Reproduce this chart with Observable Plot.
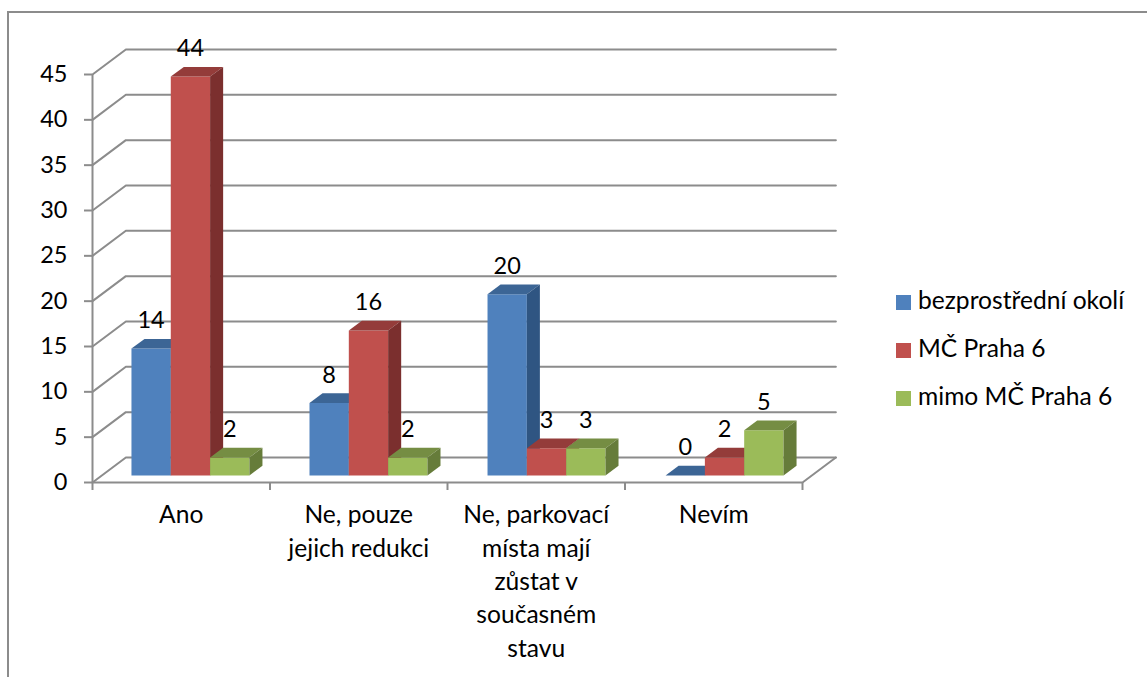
<!DOCTYPE html>
<html><head><meta charset="utf-8">
<script src="https://cdn.jsdelivr.net/npm/d3@7"></script>
<script src="https://cdn.jsdelivr.net/npm/@observablehq/plot@0.6"></script>
<style>
html,body{margin:0;padding:0;background:#fff;overflow:hidden}
#wrap{position:relative;width:1147px;height:677px;font-family:Lato,sans-serif;color:#000}
#frame{position:absolute;left:7px;top:11px;right:-4px;bottom:-4px;border:2px solid #8c8c8c;box-sizing:border-box}
#chart{position:absolute;left:0;top:0}
#legend div{position:absolute;left:896px;height:16px;line-height:16px;font-size:24.6px;white-space:nowrap}
#legend i{display:inline-block;width:15px;height:15px;margin-right:7px;vertical-align:-1px}
</style></head><body>
<div id="wrap"><div id="frame"></div><div id="chart"></div><div id="legend"></div></div>
<script>
const categories = ["Ano", "Ne, pouze\njejich redukci", "Ne, parkovací\nmísta mají\nzůstat v\nsoučasném\nstavu", "Nevím"];
const seriesNames = ["bezprostřední okolí", "MČ Praha 6", "mimo MČ Praha 6"];
const okoli = [14, 8, 20, 0];
const praha6 = [44, 16, 3, 2];
const mimo = [2, 2, 3, 5];
const yTicks = [0, 5, 10, 15, 20, 25, 30, 35, 40, 45];
const frontColors = ["#4f81bd", "#c0504d", "#9bbb59"];
const topColors = ["#3c6595", "#943c3a", "#758d43"];
const sideColors = ["#2f5582", "#7b2f2e", "#667c3a"];

const values = [okoli, praha6, mimo];
// projection offsets of the 3D box, in data units
const wallDx = 0.188, wallDy = 2.76;
const barDx = 0.0735, barDy = 1.07;
const baseDy = 0.77;
const groupStart = 0.2195, barW = 0.2215;
const fontPx = 23.5, categoryFontPx = 24.6;

const grid = yTicks.flatMap(v => [
  {id: v, x: 0, y: v},
  {id: v, x: wallDx, y: v + wallDy},
  {id: v, x: categories.length + wallDx, y: v + wallDy}
]);
const floorEdge = [
  {x: 0, y: 0}, {x: categories.length, y: 0}, {x: categories.length + wallDx, y: wallDy}
];
const faces = [], labels = [];
categories.forEach((c, i) => {
  values.forEach((arr, s) => {
    const v = arr[i];
    const x0 = i + groupStart + s * barW + (i * 0.003), x1 = x0 + barW;
    const y0 = baseDy, y1 = baseDy + v;
    const id = i + "-" + s;
    const poly = (k, color, pts) => pts.forEach(p => faces.push({id: id + k, color, x: p[0], y: p[1]}));
    poly("f", frontColors[s], [[x0, y0], [x1, y0], [x1, y1], [x0, y1]]);
    poly("t", topColors[s], [[x0, y1], [x1, y1], [x1 + barDx, y1 + barDy], [x0 + barDx, y1 + barDy]]);
    poly("s", sideColors[s], [[x1, y0], [x1 + barDx, y0 + barDy], [x1 + barDx, y1 + barDy], [x1, y1]]);
    labels.push({x: (x0 + x1) / 2, y: y1, v});
  });
});

const plot = Plot.plot({
  width: 1147, height: 677,
  marginLeft: 92, marginRight: 345, marginTop: 74, marginBottom: 195,
  style: {fontFamily: "Lato, sans-serif", fontSize: fontPx + "px", background: "transparent", color: "#000"},
  x: {domain: [0, categories.length], axis: null},
  y: {domain: [0, 45], axis: null},
  color: {type: "identity"},
  marks: [
    Plot.line(grid, {x: "x", y: "y", z: "id", stroke: "#8c8c8c", strokeWidth: 2}),
    Plot.line(floorEdge, {x: "x", y: "y", stroke: "#8c8c8c", strokeWidth: 2}),
    Plot.ruleX([0], {y1: 0, y2: 45, stroke: "#8c8c8c", strokeWidth: 2}),
    Plot.axisY({ticks: yTicks, anchor: "left", label: null, tickSize: 8, tickPadding: 17, stroke: "#8c8c8c", strokeWidth: 2, fill: "#000", fontSize: fontPx}),
    Plot.axisX({ticks: d3.range(categories.length + 1), anchor: "bottom", label: null, tickSize: 8, tickFormat: () => "", stroke: "#8c8c8c", strokeWidth: 2}),
    Plot.line(faces, {x: "x", y: "y", z: "id", fill: "color", stroke: "none"}),
    Plot.text(labels, {x: "x", y: "y", text: "v", dy: -28, fill: "#000", fontSize: fontPx}),
    Plot.text(categories, {x: (d, i) => i + 0.5, y: () => 0, text: d => d, lineAnchor: "top", dy: 17, lineHeight: 1.358, fill: "#000", fontSize: categoryFontPx})
  ]
});
document.getElementById("chart").appendChild(plot);

const legend = document.getElementById("legend");
seriesNames.forEach((name, i) => {
  const row = document.createElement("div");
  row.style.top = (292 + i * 48) + "px";
  const sw = document.createElement("i");
  sw.style.background = frontColors[i];
  row.appendChild(sw);
  row.appendChild(document.createTextNode(name));
  legend.appendChild(row);
});
</script>
</body></html>
